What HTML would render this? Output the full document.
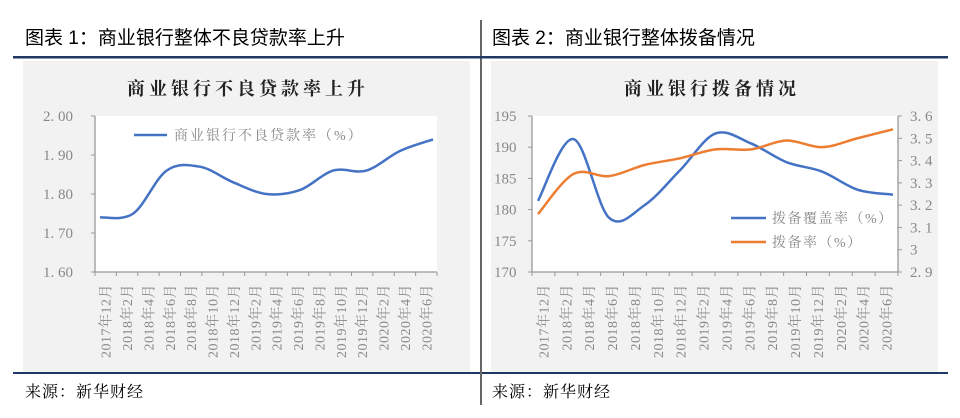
<!DOCTYPE html>
<html><head><meta charset="utf-8"><style>
body{margin:0;width:960px;height:413px;background:#fff;overflow:hidden;font-family:"Liberation Sans","Noto Sans CJK SC",sans-serif}
svg text{font-family:"Liberation Serif","Noto Serif CJK SC",serif}
</style></head><body>
<svg id="s" width="960" height="413" xmlns="http://www.w3.org/2000/svg">
<line x1="481" y1="20" x2="481" y2="405" stroke="#000" stroke-width="1.2"/>
<text x="25" y="44" font-size="19" fill="#000" style="font-family:'Liberation Sans','Noto Sans CJK SC',sans-serif">图表 1：商业银行整体不良贷款率上升</text>
<text x="492" y="44" font-size="19" fill="#000" style="font-family:'Liberation Sans','Noto Sans CJK SC',sans-serif">图表 2：商业银行整体拨备情况</text>
<rect x="13" y="56" width="467" height="2.5" fill="#1f3864"/>
<rect x="470" y="56" width="478" height="2.5" fill="#1f3864"/>
<rect x="23" y="61" width="447" height="311" fill="#f2f2f2"/>
<rect x="491" y="61" width="447" height="311" fill="#f2f2f2"/>
<rect x="13" y="372" width="467" height="2" fill="#1f3864"/>
<rect x="482" y="372" width="466" height="2" fill="#1f3864"/>
<text x="25" y="397" font-size="16" fill="#000" letter-spacing="1" style="font-family:'Noto Serif CJK SC',serif">来源：新华财经</text>
<text x="492" y="397" font-size="16" fill="#000" letter-spacing="1" style="font-family:'Noto Serif CJK SC',serif">来源：新华财经</text>
<text x="248" y="95" font-size="18" font-weight="bold" text-anchor="middle" fill="#222" letter-spacing="4">商业银行不良贷款率上升</text>
<text x="712" y="95" font-size="18" font-weight="bold" text-anchor="middle" fill="#222" letter-spacing="4">商业银行拨备情况</text>
<rect x="95" y="116" width="342" height="156" fill="#fff"/>
<rect x="532" y="116" width="366" height="156" fill="#fff"/>
<g id="g"></g>
</svg>
<script>
var g=document.getElementById('g'),h='';
function sp(pts){var d='M'+pts[0][0]+','+pts[0][1];for(var i=0;i<pts.length-1;i++){var p0=pts[i-1]||pts[i],p1=pts[i],p2=pts[i+1],p3=pts[i+2]||p2;var t=6;d+=' C'+(p1[0]+(p2[0]-p0[0])/t)+','+(p1[1]+(p2[1]-p0[1])/t)+' '+(p2[0]-(p3[0]-p1[0])/t)+','+(p2[1]-(p3[1]-p1[1])/t)+' '+p2[0]+','+p2[1];}return d;}
var labs=['2017年12月','2018年2月','2018年4月','2018年6月','2018年8月','2018年10月','2018年12月','2019年2月','2019年4月','2019年6月','2019年8月','2019年10月','2019年12月','2020年2月','2020年4月','2020年6月'];
function axis(x0,x1,yb){var w=(x1-x0)/16;h+='<line x1="'+x0+'" y1="'+yb+'" x2="'+x1+'" y2="'+yb+'" stroke="#999" stroke-width="1.3"/>';for(var i=0;i<=16;i++){var x=x0+i*w;h+='<line x1="'+x+'" y1="'+yb+'" x2="'+x+'" y2="'+(yb+4)+'" stroke="#999"/>';}
for(var i=0;i<16;i++){var x=x0+(i+0.5)*w+5;h+='<text transform="translate('+x+','+(yb+12)+') rotate(-90)" font-size="14" letter-spacing="0.5" text-anchor="end" fill="#888">'+labs[i]+'</text>';}}
h+='<line x1="95" y1="116" x2="95" y2="272" stroke="#999" stroke-width="1.3"/>';
['2.00','1.90','1.80','1.70','1.60'].forEach(function(t,i){var y=116+i*39;h+='<line x1="91" y1="'+y+'" x2="95" y2="'+y+'" stroke="#999"/><text x="73" y="'+(y+5)+'" font-size="15" text-anchor="end" fill="#888">'+t.replace('.','. ')+'</text>';});
axis(95,437,272);
var L=[1.74,1.75,1.86,1.87,1.83,1.80,1.81,1.86,1.86,1.91,1.94];
h+='<path d="'+sp(L.map(function(v,i){return[100+i*33.3,272-(v-1.6)*390]}))+'" fill="none" stroke="#4472c4" stroke-width="2.5"/>';
h+='<line x1="134" y1="135" x2="167" y2="135" stroke="#4472c4" stroke-width="2.5"/><text x="174" y="140" font-size="14" fill="#888" letter-spacing="2">商业银行不良贷款率（%）</text>';
h+='<line x1="532" y1="116" x2="532" y2="272" stroke="#999" stroke-width="1.3"/><line x1="898" y1="116" x2="898" y2="272" stroke="#999" stroke-width="1.3"/>';
[195,190,185,180,175,170].forEach(function(t,i){var y=116+i*31.2;h+='<line x1="528" y1="'+y+'" x2="532" y2="'+y+'" stroke="#999"/><text x="494" y="'+(y+5)+'" font-size="15" fill="#888">'+t+'</text>';});
['3.6','3.5','3.4','3.3','3.2','3.1','3','2.9'].forEach(function(t,i){var y=116+i*22.29;h+='<line x1="898" y1="'+y+'" x2="902" y2="'+y+'" stroke="#999"/><text x="910" y="'+(y+5)+'" font-size="15" fill="#888">'+t.replace('.','. ')+'</text>';});
axis(532,898,272);
var B=[181.4,191.3,178.7,180.7,186.3,192.2,190.6,187.6,186.1,183.2,182.4];
var P=[3.16,3.34,3.33,3.38,3.41,3.45,3.45,3.49,3.46,3.50,3.54];
h+='<path d="'+sp(B.map(function(v,i){return[538+i*35.5,272-(v-170)*6.24]}))+'" fill="none" stroke="#4472c4" stroke-width="2.5"/>';
h+='<path d="'+sp(P.map(function(v,i){return[538+i*35.5,272-(v-2.9)*222.9]}))+'" fill="none" stroke="#ed7d31" stroke-width="2.5"/>';
h+='<line x1="731" y1="218" x2="766" y2="218" stroke="#4472c4" stroke-width="2.5"/><text x="772" y="223" font-size="14" fill="#888" letter-spacing="1.5">拨备覆盖率（%）</text>';
h+='<line x1="731" y1="242" x2="766" y2="242" stroke="#ed7d31" stroke-width="2.5"/><text x="772" y="247" font-size="14" fill="#888" letter-spacing="1.5">拨备率（%）</text>';
g.innerHTML=h;
</script>
</body></html>
